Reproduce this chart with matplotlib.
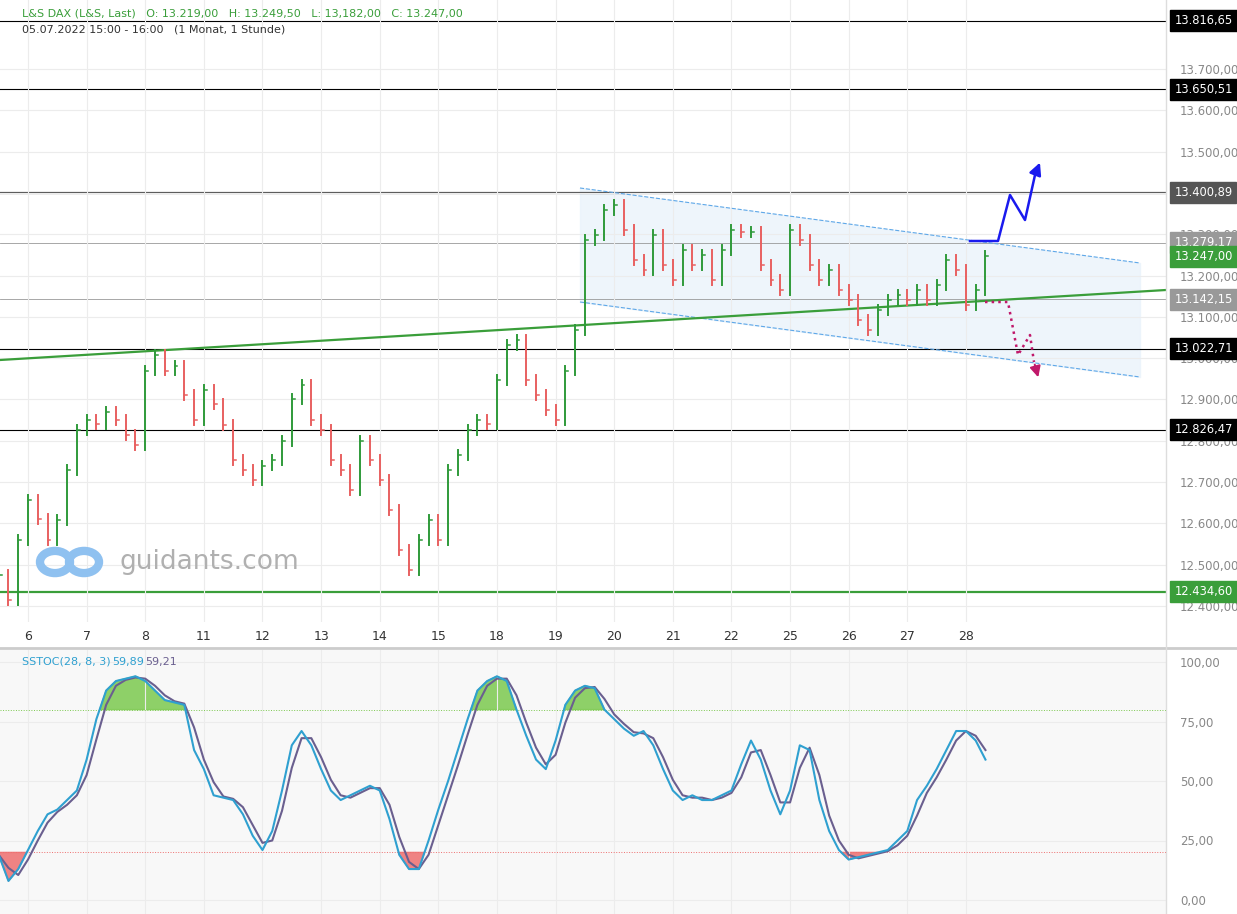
import matplotlib
matplotlib.use('Agg')
import matplotlib.pyplot as plt
import numpy as np

days = ['6', '7', '8', '11', '12', '13', '14', '15', '18', '19', '20', '21', '22', '25', '26', '27', '28']
bars_per_day = 6

# hourly-ish closes (6 per day)
closes = [
    12475, 12414, 12560, 12657, 12610, 12560,
    12608, 12730, 12826, 12850, 12840, 12870,
    12850, 12814, 12790, 12970, 13007, 12970,
    12980, 12910, 12850, 12923, 12890, 12838,
    12753, 12730, 12705, 12740, 12753, 12800,
    12900, 12935, 12850, 12826, 12753, 12730,
    12680, 12800, 12753, 12705, 12633, 12535,
    12487, 12560, 12608, 12560, 12730, 12765,
    12826, 12850, 12840, 12947, 13032, 13044,
    12947, 12910, 12875, 12850, 12970, 13068,
    13286, 13298, 13358, 13370, 13310, 13238,
    13213, 13298, 13225, 13190, 13262, 13225,
    13250, 13190, 13262, 13310, 13305, 13305,
    13225, 13190, 13165, 13310, 13286, 13225,
    13190, 13213, 13165, 13141, 13092, 13068,
    13116, 13141, 13153, 13141, 13165, 13141,
    13177, 13238, 13213, 13129, 13165, 13247,
]

# SSTOC %K
stoch_k = [
    19, 8, 13, 21, 29, 36,
    38, 42, 46, 59, 76, 88,
    92, 93, 94, 92, 88, 84,
    83, 82, 63, 55, 44, 43,
    42, 36, 27, 21, 29, 46,
    65, 71, 65, 55, 46, 42,
    44, 46, 48, 46, 34, 19,
    13, 13, 25, 38, 50, 63,
    76, 88, 92, 94, 92, 80,
    69, 59, 55, 67, 82, 88,
    90, 89, 80, 76, 72, 69,
    71, 65, 55, 46, 42, 44,
    42, 42, 44, 46, 57, 67,
    59, 46, 36, 46, 65, 63,
    42, 29, 21, 17, 18, 19,
    20, 21, 25, 29, 42, 48,
    55, 63, 71, 71, 67, 59,
]
# signal line: two-sample mean of %K
stoch_d = [stoch_k[0]] + [(a + b) / 2 for a, b in zip(stoch_k[:-1], stoch_k[1:])]

levels = [13816.65, 13650.51, 13400.89, 13279.17, 13142.15, 13022.71, 12826.47, 12434.60]
level_colors = ['black', 'black', '#555555', '#999999', '#999999', 'black', 'black', '#3a9e3a']
level_widths = [0.8, 0.8, 1.6, 0.6, 0.6, 0.8, 0.8, 1.6]


def px2i(px):
    return (px - 28) / 9.77 + 3


def py2p(py):
    return 13700 + (69 - py) * 2.421


def de(v):
    return f'{v:,.2f}'.replace(',', 'X').replace('.', ',').replace('X', '.')


W, H = 1237, 914
fig = plt.figure(figsize=(W / 100, H / 100), dpi=100)
ax = fig.add_axes([0, 1 - 622 / H, 1166 / W, 622 / H])
ax2 = fig.add_axes([0, 0, 1166 / W, 264 / H])

xlo, xhi = px2i(0), px2i(1166)
for a in (ax, ax2):
    a.set_xlim(xlo, xhi)
    a.set_facecolor('white')
    for s in a.spines.values():
        s.set_visible(False)
    a.set_xticks([3 + 6 * k for k in range(len(days))])
    a.grid(True, color='#ececec', lw=0.8)
    a.tick_params(length=0)

yt = np.arange(12400, 13800, 100)
ax.set_ylim(py2p(622), py2p(0))
ax.set_yticks(yt)
ax.yaxis.tick_right()
ax.set_yticklabels([de(v) for v in yt], color='#888888', fontsize=8.5)
ax.tick_params(axis='y', pad=10)
ax.set_xticklabels(days, fontsize=9, color='#333333')
ax.tick_params(axis='x', pad=6)

# channel fill and lines
cx = [px2i(580), px2i(1140)]
up = [py2p(188), py2p(263)]
lo = [py2p(302), py2p(377)]
ax.fill_between(cx, lo, up, color='#eaf3fb', alpha=0.8, zorder=0)
ax.plot(cx, up, ls='--', color='#5fa8e8', lw=0.8)
ax.plot(cx, lo, ls='--', color='#5fa8e8', lw=0.8)

for lv, c, lw in zip(levels, level_colors, level_widths):
    ax.axhline(lv, color=c, lw=lw, zorder=1)

ax.plot([px2i(0), px2i(1166)], [py2p(360), py2p(290)], color='#3a9e3a', lw=1.6, zorder=2)

# bars
prev = closes[0] - 20
for i, c in enumerate(closes):
    col = '#2f9a3a' if c >= prev else '#e86060'
    hi, lw_ = max(c, prev) + 12, min(c, prev) - 12
    ax.plot([i, i], [lw_, hi], color=col, lw=1.4, zorder=3)
    ax.plot([i, i + 0.3], [c, c], color=col, lw=1.1, zorder=3)
    prev = c

# scenario arrows
bx = [px2i(p) for p in (970, 998, 1010, 1025, 1035)]
by = [py2p(p) for p in (241, 241, 195, 220, 175)]
ax.plot(bx, by, color='#1a1aee', lw=1.8, zorder=4)
ax.annotate('', xy=(px2i(1041), py2p(160)), xytext=(bx[-1], by[-1]),
            arrowprops=dict(arrowstyle='-|>', color='#1a1aee', lw=1.8, mutation_scale=18))
mx = [px2i(p) for p in (985, 1008, 1018, 1030, 1034)]
my = [py2p(p) for p in (302, 302, 355, 335, 362)]
ax.plot(mx, my, color='#c0186a', lw=1.8, ls=':', zorder=4)
ax.annotate('', xy=(px2i(1039), py2p(380)), xytext=(mx[-1], my[-1]),
            arrowprops=dict(arrowstyle='-|>', color='#c0186a', lw=1.5, mutation_scale=16))

# right labels
lab_levels = levels + [13247.00]
lab_colors = ['black', 'black', '#555555', '#999999', '#999999', 'black', 'black', '#3a9e3a', '#3a9e3a']
for lv, c in zip(lab_levels, lab_colors):
    ax.annotate(de(lv), xy=(1.0, lv), xycoords=('axes fraction', 'data'), xytext=(6, 0),
                textcoords='offset points', va='center', ha='left', fontsize=8.3, color='white',
                bbox=dict(boxstyle='square,pad=0.35', fc=c, ec=c), annotation_clip=False, zorder=10)

# watermark
fig.text(120 / W, 1 - 562 / H, 'guidants.com', fontsize=19, color='#b0b0b0', va='center')
for cxp in (55, 84):
    fig.patches.append(plt.Circle((cxp / W, 1 - 562 / H), 15 / W, transform=fig.transFigure,
                                  fill=False, ec='#8fc1f0', lw=6))

fig.text(22 / W, 1 - 13 / H, 'L&S DAX (L&S, Last)   O: 13.219,00   H: 13.249,50   L: 13,182,00   C: 13.247,00',
         fontsize=8, color='#3a9e3a', va='center')
fig.text(22 / W, 1 - 29 / H, '05.07.2022 15:00 - 16:00   (1 Monat, 1 Stunde)', fontsize=8, color='#333333', va='center')

# lower panel
ax2.set_facecolor('#f8f8f8')
ax2.set_ylim((900 - 914) / 2.38, (900 - 650) / 2.38)
ax2.set_yticks([0, 25, 50, 75, 100])
ax2.yaxis.tick_right()
ax2.set_yticklabels(['0,00', '25,00', '50,00', '75,00', '100,00'], color='#888888', fontsize=8.5)
ax2.tick_params(axis='y', pad=10)
ax2.set_xticklabels([])
idx = np.arange(len(stoch_k))
k = np.array(stoch_k, float)
ax2.fill_between(idx, 80, k, where=k >= 80, interpolate=True, color='#7cc94f', alpha=0.85)
ax2.fill_between(idx, 20, k, where=k <= 20, interpolate=True, color='#ee6f6f', alpha=0.85)
ax2.axhline(80, color='#7cc94f', lw=0.7, ls=':')
ax2.axhline(20, color='#ee6f6f', lw=0.7, ls=':')
ax2.plot(idx, stoch_d, color='#6a5f8f', lw=1.5)
ax2.plot(idx, stoch_k, color='#2fa0d0', lw=1.5)
fig.text(22 / W, 1 - 662 / H, 'SSTOC(28, 8, 3)', fontsize=8, color='#2fa0d0', va='center')
fig.text(112 / W, 1 - 662 / H, '59,89', fontsize=8, color='#2fa0d0', va='center')
fig.text(145 / W, 1 - 662 / H, '59,21', fontsize=8, color='#6a5f8f', va='center')
fig.add_artist(plt.Line2D([0, 1], [1 - 648 / H] * 2, color='#cccccc', lw=2))
fig.add_artist(plt.Line2D([1166 / W] * 2, [0, 1], color='#dddddd', lw=1))

fig.savefig('out.png', dpi=100)
